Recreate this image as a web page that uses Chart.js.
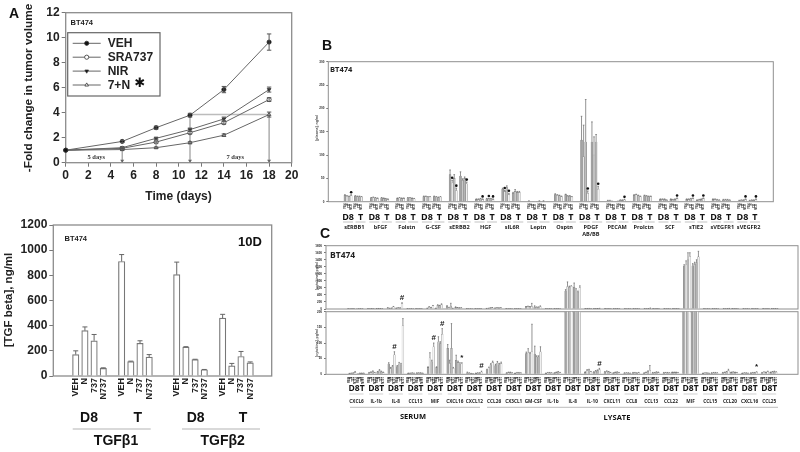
<!DOCTYPE html>
<html>
<head>
<meta charset="utf-8">
<title>BT474</title>
<script src="https://cdn.jsdelivr.net/npm/chart.js@4"></script>
<style>
    html, body { margin: 0; padding: 0; background: #fff; }
    canvas { position: absolute; left: 0; top: 0; }
</style>
</head>
<body>
<canvas id="chartA" width="800" height="452"></canvas>
<canvas id="chartTgf" width="800" height="452"></canvas>
<canvas id="chartB" width="800" height="452"></canvas>
<canvas id="chartC1" width="800" height="452"></canvas>
<canvas id="chartC2" width="800" height="452"></canvas>
<script>
// Panel A - tumor volume
const days = [0, 5, 8, 11, 14, 18];
const vehVolume = [1, 1.7, 2.8, 3.8, 5.85, 9.65];
const sraVolume = [1, 1.15, 1.65, 2.4, 3.2, 5.05];
const nirVolume = [1, 1.2, 1.95, 2.65, 3.5, 5.85];
const comboVolume = [1, 1.05, 1.2, 1.6, 2.2, 3.85];
const vehError = [0, 0.08, 0.12, 0.15, 0.25, 0.65];
const sraError = [0, 0.05, 0.08, 0.1, 0.12, 0.15];
const nirError = [0, 0.05, 0.08, 0.12, 0.15, 0.2];
const comboError = [0, 0.05, 0.06, 0.08, 0.1, 0.2];
const arrowDays = [5, 11, 18];
const arrowFrom = [1.2, 3.8, 3.85];

// Panel TGF beta
const treatments = ['VEH', 'N', '737', 'N737'];
const tgfValues = [170, 360, 280, 60, 910, 115, 260, 150, 805, 230, 130, 50, 460, 80, 155, 105];
const tgfErrors = [30, 30, 50, 5, 55, 3, 20, 20, 100, 3, 3, 2, 30, 20, 40, 7];

// Panel B - plasma factors, four D8 bars then four T bars per group
const plasmaGroups = ['sERBB1', 'bFGF', 'Folstn', 'G-CSF', 'sERBB2', 'HGF', 'sIL6R', 'Leptn', 'Osptn', 'PDGF', 'PECAM', 'Prolctn', 'SCF', 'sTIE2', 'sVEGFR1', 'sVEGFR2'];
const plasmaValues = [
    [14, 12, 11, 13, 12, 11, 11, 10],
    [8, 9, 8, 7, 8, 7, 6, 5],
    [7, 8, 7, 7, 8, 8, 7, 6],
    [11, 11, 10, 10, 11, 10, 9, 10],
    [58, 40, 50, 24, 55, 46, 50, 38],
    [5, 5, 6, 5, 6, 6, 6, 5],
    [27, 22, 30, 15, 18, 22, 20, 20],
    [1, 1, 1, 1, 1, 1, 1, 1],
    [15, 14, 13, 11, 15, 12, 12, 10],
    [132, 96, 128, 18, 128, 100, 128, 27],
    [2, 2, 2, 1, 2, 3, 3, 4],
    [14, 15, 13, 11, 13, 12, 11, 11],
    [5, 5, 5, 3, 5, 4, 5, 7],
    [5, 5, 6, 7, 3, 4, 5, 7],
    [5, 5, 4, 3, 4, 4, 4, 3],
    [2, 3, 3, 5, 2, 3, 3, 5]
];
const plasmaErrors = [
    [1, 1, 1, 2, 1, 1, 1, 1],
    [1, 1, 1, 1, 1, 1, 1, 1],
    [1, 1, 1, 1, 1, 1, 1, 1],
    [1, 1, 1, 1, 1, 1, 1, 1],
    [10, 6, 8, 5, 9, 3, 3, 4],
    [1, 1, 1, 1, 1, 1, 1, 1],
    [2, 2, 4, 3, 2, 4, 2, 2],
    [1, 0, 0, 0, 1, 0, 1, 0],
    [2, 1, 1, 1, 1, 1, 1, 1],
    [51, 68, 91, 5, 43, 39, 16, 6],
    [1, 1, 0, 0, 0, 1, 1, 1],
    [1, 1, 1, 1, 1, 1, 1, 1],
    [1, 1, 1, 1, 1, 1, 1, 1],
    [1, 1, 1, 1, 1, 1, 1, 1],
    [1, 1, 1, 1, 1, 1, 1, 1],
    [1, 1, 1, 1, 1, 1, 1, 1]
];
// [group, bar] pairs with a significance dot
const plasmaStars = [[0, 3], [4, 1], [4, 3], [4, 7], [5, 3], [5, 5], [5, 7], [6, 1], [6, 3], [9, 3], [9, 7], [10, 7], [12, 7], [13, 3], [13, 7], [15, 3], [15, 7]];

// Panel C - serum then lysate cytokines
const cytokineGroups = ['CXCL6', 'IL-1b', 'IL-8', 'CCL13', 'MIF', 'CXCL16', 'CXCL12', 'CCL26', 'CX3CL1', 'GM-CSF', 'IL-1b', 'IL-8', 'IL-10', 'CXCL11', 'CCL8', 'CCL13', 'CCL22', 'MIF', 'CCL15', 'CCL20', 'CXCL16', 'CCL25'];
const cytokineValues = [
    [2, 3, 4, 6, 2, 3, 3, 3],
    [5, 6, 9, 5, 7, 12, 8, 6],
    [33, 18, 25, 62, 25, 33, 30, 155],
    [3, 3, 4, 3, 4, 4, 4, 3],
    [22, 52, 40, 88, 22, 104, 98, 128],
    [83, 35, 83, 19, 45, 38, 33, 33],
    [5, 3, 2, 1, 3, 4, 4, 7],
    [14, 20, 30, 38, 28, 36, 30, 34],
    [4, 6, 6, 4, 3, 5, 5, 4],
    [66, 68, 66, 72, 65, 55, 56, 72],
    [3, 5, 5, 4, 4, 6, 8, 5],
    [510, 640, 620, 650, 620, 540, 480, 600],
    [6, 12, 14, 8, 7, 10, 12, 15],
    [7, 9, 8, 5, 4, 6, 7, 5],
    [4, 4, 4, 3, 5, 5, 4, 5],
    [4, 6, 9, 13, 5, 5, 7, 6],
    [5, 5, 5, 4, 6, 6, 6, 5],
    [1220, 1250, 1400, 1500, 1230, 1270, 1320, 1480],
    [3, 4, 4, 3, 4, 5, 5, 4],
    [5, 6, 8, 12, 6, 7, 6, 5],
    [3, 4, 4, 3, 4, 5, 5, 7],
    [5, 7, 6, 9, 6, 8, 9, 7]
];
const cytokineErrors = [
    [1, 1, 1, 3, 0, 1, 1, 1],
    [1, 2, 2, 1, 2, 3, 2, 1],
    [4, 4, 3, 10, 3, 5, 5, 23],
    [1, 1, 1, 1, 1, 1, 1, 1],
    [2, 17, 5, 12, 2, 16, 6, 18],
    [12, 10, 79, 3, 16, 4, 4, 4],
    [2, 2, 1, 1, 1, 1, 1, 3],
    [2, 3, 4, 4, 4, 5, 5, 5],
    [1, 1, 1, 1, 1, 1, 1, 1],
    [5, 14, 4, 88, 25, 4, 3, 16],
    [1, 1, 1, 1, 1, 1, 1, 1],
    [40, 130, 30, 10, 120, 40, 30, 60],
    [2, 3, 2, 1, 1, 2, 2, 4],
    [2, 2, 1, 1, 1, 1, 1, 1],
    [1, 1, 1, 1, 1, 1, 1, 1],
    [1, 1, 2, 15, 1, 1, 1, 1],
    [1, 1, 1, 1, 1, 1, 1, 1],
    [40, 120, 200, 100, 60, 60, 80, 160],
    [1, 1, 1, 1, 1, 1, 1, 1],
    [1, 1, 1, 4, 1, 1, 1, 1],
    [1, 1, 1, 1, 1, 1, 1, 1],
    [1, 1, 1, 1, 1, 1, 1, 1]
];
// [group, bar, symbol]
const cytokineMarksLow = [[2, 3, '#'], [4, 3, '#'], [4, 7, '#'], [5, 7, '*'], [6, 7, '#'], [12, 7, '#'], [20, 7, '*']];
const cytokineMarksHigh = [[2, 7, '#']];

const SANS = '"Liberation Sans", Arial, sans-serif';
const OPEN = '"Open Sans", sans-serif';
const barShades = ['#a3a3a3', '#e6e6e6', '#bdbdbd', '#f4f4f4', '#a3a3a3', '#c8c8c8', '#b5b5b5', '#f0f0f0'];

// axes take no layout room, so give them the page again before the labels are clipped
Chart.register({
    id: 'labelRoom',
    afterLayout(chart) {
        chart.scales.x.bottom = chart.height;
        chart.scales.y.left = 0;
    }
});

function text(ctx, s, x, y, font, color, align, rotate) {
    ctx.save();
    ctx.translate(x, y);
    if (rotate) ctx.rotate(rotate);
    ctx.font = font;
    ctx.fillStyle = color || '#111';
    ctx.textAlign = align || 'center';
    ctx.textBaseline = 'middle';
    ctx.fillText(s, 0, 0);
    ctx.restore();
}

function hline(ctx, x1, x2, y, color, width) {
    ctx.strokeStyle = color;
    ctx.lineWidth = width;
    ctx.beginPath();
    ctx.moveTo(x1, y);
    ctx.lineTo(x2, y);
    ctx.stroke();
}

function frame(chart, color, width) {
    const a = chart.chartArea;
    const ctx = chart.ctx;
    ctx.save();
    ctx.strokeStyle = color;
    ctx.lineWidth = width;
    ctx.strokeRect(a.left, a.top, a.right - a.left, a.bottom - a.top);
    ctx.restore();
}

// plot box is given in page pixels
function baseOptions(box) {
    return {
        responsive: false,
        animation: false,
        layout: { padding: { left: box[0], top: box[1], right: 800 - box[2], bottom: 452 - box[3] } },
        plugins: { legend: { display: false }, tooltip: { enabled: false } }
    };
}

function valueAxis(max, step, size, font, color, tick) {
    return {
        min: 0,
        max: max,
        afterFit: s => { s.width = 0; },
        border: { display: false },
        grid: { drawOnChartArea: false, color: color, tickLength: tick, lineWidth: 1 },
        ticks: {
            stepSize: step,
            font: { size: size, weight: 'bold', family: font },
            color: '#222',
            padding: 2,
            callback: v => String(v)
        }
    };
}

// bars sit on a linear axis counted in bar widths
function slotAxis(min, max, slots, names, size, font, pad) {
    return {
        type: 'linear',
        min: min,
        max: max,
        afterFit: s => { s.height = 0; },
        afterBuildTicks: s => { s.ticks = slots.map(v => ({ value: v })); },
        border: { display: false },
        grid: { display: false, drawTicks: false },
        ticks: {
            autoSkip: false,
            minRotation: 90,
            maxRotation: 90,
            padding: pad,
            font: { size: size, weight: 'bold', family: font },
            color: '#222',
            callback: (v, i) => names[i % names.length]
        }
    };
}

// upper whiskers, and both ways when dataset.bothWays is set
const whiskers = {
    id: 'whiskers',
    afterDatasetsDraw(chart) {
        const ctx = chart.ctx;
        const a = chart.chartArea;
        chart.data.datasets.forEach(ds => {
            if (!ds.errors) return;
            const xs = chart.scales.x;
            const ys = chart.scales.y;
            ctx.save();
            ctx.beginPath();
            ctx.rect(a.left, a.top - 1, a.right - a.left, a.bottom - a.top + 1);
            ctx.clip();
            ctx.strokeStyle = ds.errorColor || '#555';
            ctx.lineWidth = ds.errorWidth || 1;
            ds.data.forEach((p, i) => {
                const e = ds.errors[i];
                if (!e) return;
                const x = xs.getPixelForValue(p.x);
                const y0 = ys.getPixelForValue(ds.bothWays ? p.y - e : p.y);
                const y1 = ys.getPixelForValue(p.y + e);
                const c = ds.capWidth;
                ctx.beginPath();
                ctx.moveTo(x, y0);
                ctx.lineTo(x, y1);
                ctx.moveTo(x - c, y1);
                ctx.lineTo(x + c, y1);
                if (ds.bothWays) {
                    ctx.moveTo(x - c, y0);
                    ctx.lineTo(x + c, y0);
                }
                ctx.stroke();
            });
            ctx.restore();
        });
    }
};

// Panel A
const lineStyles = [
    { label: 'VEH', values: vehVolume, errors: vehError, style: 'circle', fill: '#111', rot: 0 },
    { label: 'SRA737', values: sraVolume, errors: sraError, style: 'circle', fill: '#fff', rot: 0 },
    { label: 'NIR', values: nirVolume, errors: nirError, style: 'triangle', fill: '#111', rot: 180 },
    { label: '7+N', values: comboVolume, errors: comboError, style: 'triangle', fill: '#fff', rot: 0 }
];

new Chart(document.getElementById('chartA'), {
    type: 'scatter',
    data: {
        datasets: lineStyles.map(l => ({
            label: l.label,
            data: days.map((d, i) => ({ x: d, y: l.values[i] })),
            errors: l.errors,
            bothWays: true,
            capWidth: 2.2,
            showLine: true,
            clip: false,
            borderColor: '#666',
            borderWidth: 1,
            backgroundColor: l.fill,
            pointBorderColor: '#333',
            pointBorderWidth: 0.8,
            pointRadius: 2.1,
            pointStyle: l.style,
            pointRotation: l.rot
        }))
    },
    options: Object.assign(baseOptions([65.7, 12.7, 291.7, 162.7]), {
        scales: {
            x: {
                type: 'linear', min: 0, max: 20,
                afterFit: s => { s.height = 0; },
                border: { display: false },
                grid: { drawOnChartArea: false, color: '#777', tickLength: 4 },
                ticks: { stepSize: 2, maxRotation: 0, font: { size: 12, weight: 'bold', family: SANS }, color: '#222', padding: 2 }
            },
            y: valueAxis(12, 2, 12, SANS, '#777', 4)
        }
    }),
    plugins: [whiskers, {
        id: 'panelA',
        beforeDatasetsDraw(chart) {
            const ctx = chart.ctx;
            const xs = chart.scales.x;
            const ys = chart.scales.y;
            frame(chart, '#8c8c8c', 1.3);
            hline(ctx, xs.getPixelForValue(11), xs.getPixelForValue(18), ys.getPixelForValue(3.85), '#bcbcbc', 1.5);
            arrowDays.forEach((d, i) => {
                const x = xs.getPixelForValue(d);
                const y0 = ys.getPixelForValue(0);
                ctx.strokeStyle = '#999';
                ctx.lineWidth = 1.2;
                ctx.beginPath();
                ctx.moveTo(x, ys.getPixelForValue(arrowFrom[i]));
                ctx.lineTo(x, y0);
                ctx.stroke();
                ctx.fillStyle = '#666';
                ctx.beginPath();
                ctx.moveTo(x - 2, y0 - 3);
                ctx.lineTo(x + 2, y0 - 3);
                ctx.lineTo(x, y0);
                ctx.fill();
            });
        },
        afterDraw(chart) {
            const ctx = chart.ctx;
            const xs = chart.scales.x;
            const ys = chart.scales.y;
            text(ctx, 'A', 14, 14, 'bold 14px ' + SANS);
            text(ctx, 'BT474', 70.5, 22.5, 'bold 7.5px ' + SANS, '#222', 'left');
            text(ctx, '5 days', xs.getPixelForValue(2.7), ys.getPixelForValue(0.42), 'bold 6.5px "Liberation Serif", serif', '#333');
            text(ctx, '7 days', xs.getPixelForValue(15), ys.getPixelForValue(0.42), 'bold 6.5px "Liberation Serif", serif', '#333');
            text(ctx, 'Time (days)', 178.5, 197, 'bold 12px ' + SANS, '#222');
            text(ctx, '-Fold change in tumor volume', 29, 88, 'bold 11.8px ' + SANS, '#222', 'center', -Math.PI / 2);

            // legend box
            ctx.fillStyle = '#fff';
            ctx.fillRect(67.7, 32.7, 92.3, 63.3);
            ctx.strokeStyle = '#666';
            ctx.lineWidth = 1.2;
            ctx.strokeRect(67.7, 32.7, 92.3, 63.3);
            chart.data.datasets.forEach((ds, i) => {
                const y = 43.3 + i * 13.9;
                hline(ctx, 72.7, 100.7, y, '#666', 1);
                ctx.fillStyle = ds.backgroundColor;
                ctx.strokeStyle = '#333';
                ctx.lineWidth = 0.8;
                Chart.helpers.drawPoint(ctx, { pointStyle: ds.pointStyle, rotation: ds.pointRotation, radius: 2.1, borderWidth: 0.8 }, 86.7, y);
                text(ctx, ds.label, 107.7, y + 0.5, 'bold 12px ' + SANS, '#222', 'left');
            });
            text(ctx, '\u2731', 140, 84, 'bold 13px "DejaVu Sans"', '#111');
        }
    }]
});

// Panel TGF beta
const tgfSlots = [0, 1, 2, 3, 5, 6, 7, 8, 11, 12, 13, 14, 16, 17, 18, 19];

new Chart(document.getElementById('chartTgf'), {
    type: 'bar',
    data: {
        datasets: [{
            data: tgfValues.map((v, i) => ({ x: tgfSlots[i], y: v })),
            errors: tgfErrors,
            errorColor: '#666',
            capWidth: 2.5,
            barThickness: 6.4,
            backgroundColor: '#fff',
            borderColor: '#777',
            borderWidth: 1.2
        }]
    },
    options: Object.assign(baseOptions([53.3, 225, 271.7, 376]), {
        scales: {
            x: slotAxis(-1.7, 20.6, tgfSlots, treatments, 9, SANS, 2),
            y: valueAxis(1200, 200, 12, SANS, '#777', 4)
        }
    }),
    plugins: [whiskers, {
        id: 'panelTgf',
        beforeDatasetsDraw(chart) { frame(chart, '#8c8c8c', 1.3); },
        afterDraw(chart) {
            const ctx = chart.ctx;
            text(ctx, 'BT474', 64.5, 239, 'bold 7.5px ' + SANS, '#222', 'left');
            text(ctx, '10D', 250, 242, 'bold 13px ' + SANS, '#111');
            text(ctx, '[TGF beta], ng/ml', 9, 300, 'bold 11.5px ' + SANS, '#222', 'center', -Math.PI / 2);
            text(ctx, 'D8', 89, 418, 'bold 14px ' + SANS);
            text(ctx, 'T', 137.7, 418, 'bold 14px ' + SANS);
            text(ctx, 'D8', 195.7, 418, 'bold 14px ' + SANS);
            text(ctx, 'T', 243, 418, 'bold 14px ' + SANS);
            hline(ctx, 72.7, 150.7, 429, '#ccc', 1.5);
            hline(ctx, 182, 260, 429, '#ccc', 1.5);
            text(ctx, 'TGF\u03b21', 116, 441, 'bold 14px ' + SANS);
            text(ctx, 'TGF\u03b22', 222.7, 441, 'bold 14px ' + SANS);
        }
    }]
});

// bar slot inside the group layout of panels B and C
function barSlot(period, gap, g, i) {
    return g * period + i + (i >= 4 ? gap : 0);
}

function groupedData(values, period, gap) {
    const points = [];
    values.forEach((bars, g) => bars.forEach((v, i) => points.push({ x: barSlot(period, gap, g, i), y: v })));
    return points;
}

function markPoint(chart, values, errors, period, gap, g, i) {
    return {
        x: chart.scales.x.getPixelForValue(barSlot(period, gap, g, i)),
        y: chart.scales.y.getPixelForValue(values[g][i] + errors[g][i])
    };
}

// Panel B
const plasmaPeriod = 12.62;
const plasmaGap = 1;
const plasmaData = groupedData(plasmaValues, plasmaPeriod, plasmaGap);

new Chart(document.getElementById('chartB'), {
    type: 'bar',
    data: {
        datasets: [{
            data: plasmaData,
            errors: plasmaErrors.flat(),
            errorColor: '#666',
            errorWidth: 0.7,
            capWidth: 0.8,
            barThickness: 1.9,
            backgroundColor: plasmaData.map((p, i) => barShades[i % 8]),
            borderColor: '#7a7a7a',
            borderWidth: 0.4
        }]
    },
    options: Object.assign(baseOptions([328.3, 61.7, 773.3, 201.7]), {
        scales: {
            x: slotAxis(-7.14, 204.8, plasmaData.map(p => p.x), treatments, 2.6, SANS, 2),
            y: valueAxis(300, 50, 3, SANS, '#777', 2)
        }
    }),
    plugins: [whiskers, {
        id: 'panelB',
        beforeDatasetsDraw(chart) { frame(chart, '#8f8f8f', 1); },
        afterDraw(chart) {
            const ctx = chart.ctx;
            const xs = chart.scales.x;
            text(ctx, 'B', 327, 46, 'bold 14px ' + SANS);
            text(ctx, 'BT474', 330, 70, 'bold 7.5px ' + OPEN, '#222', 'left');
            text(ctx, '[plasma], ng/ml', 317, 128, 'bold 3.5px ' + SANS, '#555', 'center', -Math.PI / 2);
            plasmaGroups.forEach((name, g) => {
                const d8 = xs.getPixelForValue(barSlot(plasmaPeriod, plasmaGap, g, 1.5));
                const t = xs.getPixelForValue(barSlot(plasmaPeriod, plasmaGap, g, 5.5) + 1);
                text(ctx, 'D8', d8, 217, 'bold 9px ' + OPEN);
                text(ctx, 'T', t, 217, 'bold 9px ' + OPEN);
                hline(ctx, d8 - 5, d8 + 5, 222, '#aaa', 0.7);
                hline(ctx, t - 5, t + 5, 222, '#aaa', 0.7);
                text(ctx, name, (d8 + t) / 2, 227.3, 'bold 5.6px ' + OPEN, '#222');
                if (name === 'PDGF') text(ctx, 'AB/BB', (d8 + t) / 2, 234, 'bold 5.6px ' + OPEN, '#222');
            });
            plasmaStars.forEach(s => {
                const p = markPoint(chart, plasmaValues, plasmaErrors, plasmaPeriod, plasmaGap, s[0], s[1]);
                ctx.fillStyle = '#111';
                ctx.beginPath();
                ctx.arc(p.x, p.y - 2.5, 1.3, 0, Math.PI * 2);
                ctx.fill();
            });
        }
    }]
});

// Panel C, same values on a full scale and on a cut scale
const cytoPeriod = 10.4;
const cytoGap = 0.5;
const cytoData = groupedData(cytokineValues, cytoPeriod, cytoGap);
const cytoMin = -11.7;
const cytoMax = 236.7;

function cytoDataset() {
    return {
        data: cytoData,
        errors: cytokineErrors.flat(),
        errorColor: '#666',
        errorWidth: 0.7,
        capWidth: 0.7,
        barThickness: 1.7,
        backgroundColor: cytoData.map((p, i) => barShades[i % 8]),
        borderColor: '#7a7a7a',
        borderWidth: 0.3
    };
}

function drawMarks(chart, marks) {
    marks.forEach(m => {
        const p = markPoint(chart, cytokineValues, cytokineErrors, cytoPeriod, cytoGap, m[0], m[1]);
        text(chart.ctx, m[2], p.x, p.y - 5, 'bold 8px ' + SANS, '#111');
    });
}

new Chart(document.getElementById('chartC1'), {
    type: 'bar',
    data: { datasets: [cytoDataset()] },
    options: Object.assign(baseOptions([326, 245.7, 798, 309]), {
        scales: {
            x: Object.assign(slotAxis(cytoMin, cytoMax, [], [], 3, SANS, 1), { display: false }),
            y: valueAxis(1800, 200, 3, SANS, '#777', 2)
        }
    }),
    plugins: [whiskers, {
        id: 'panelC1',
        beforeDatasetsDraw(chart) { frame(chart, '#8f8f8f', 1); },
        afterDraw(chart) {
            const ctx = chart.ctx;
            text(ctx, 'C', 325, 234, 'bold 14px ' + SANS);
            text(ctx, 'BT474', 330, 256, 'bold 8.5px ' + OPEN, '#222', 'left');
            text(ctx, '[cytokine], pg/ml', 317, 276, 'bold 3.5px ' + SANS, '#555', 'center', -Math.PI / 2);
            drawMarks(chart, cytokineMarksHigh);
        }
    }]
});

new Chart(document.getElementById('chartC2'), {
    type: 'bar',
    data: { datasets: [cytoDataset()] },
    options: Object.assign(baseOptions([326, 311.7, 798, 374.3]), {
        scales: {
            x: slotAxis(cytoMin, cytoMax, cytoData.map(p => p.x), treatments, 3, SANS, 2.5),
            y: valueAxis(200, 50, 3, SANS, '#777', 2)
        }
    }),
    plugins: [whiskers, {
        id: 'panelC2',
        beforeDatasetsDraw(chart) { frame(chart, '#8f8f8f', 1); },
        afterDraw(chart) {
            const ctx = chart.ctx;
            const xs = chart.scales.x;
            text(ctx, '[cytokine], pg/ml', 317, 343, 'bold 3.5px ' + SANS, '#555', 'center', -Math.PI / 2);
            cytokineGroups.forEach((name, g) => {
                const x = xs.getPixelForValue(g * cytoPeriod + 3.75);
                text(ctx, 'D8T', x, 389, 'bold 8.5px ' + OPEN);
                hline(ctx, x - 7, x + 7, 394, '#bbb', 0.7);
                text(ctx, name, x, 401.7, 'bold 4.7px ' + OPEN, '#222');
            });
            hline(ctx, 350, 480, 407.3, '#aaa', 0.8);
            hline(ctx, 487, 778, 407.3, '#aaa', 0.8);
            text(ctx, 'SERUM', 413, 417, 'bold 7.5px ' + OPEN);
            text(ctx, 'LYSATE', 617, 417.5, 'bold 7.5px ' + OPEN);
            drawMarks(chart, cytokineMarksLow);
        }
    }]
});
</script>
</body>
</html>
